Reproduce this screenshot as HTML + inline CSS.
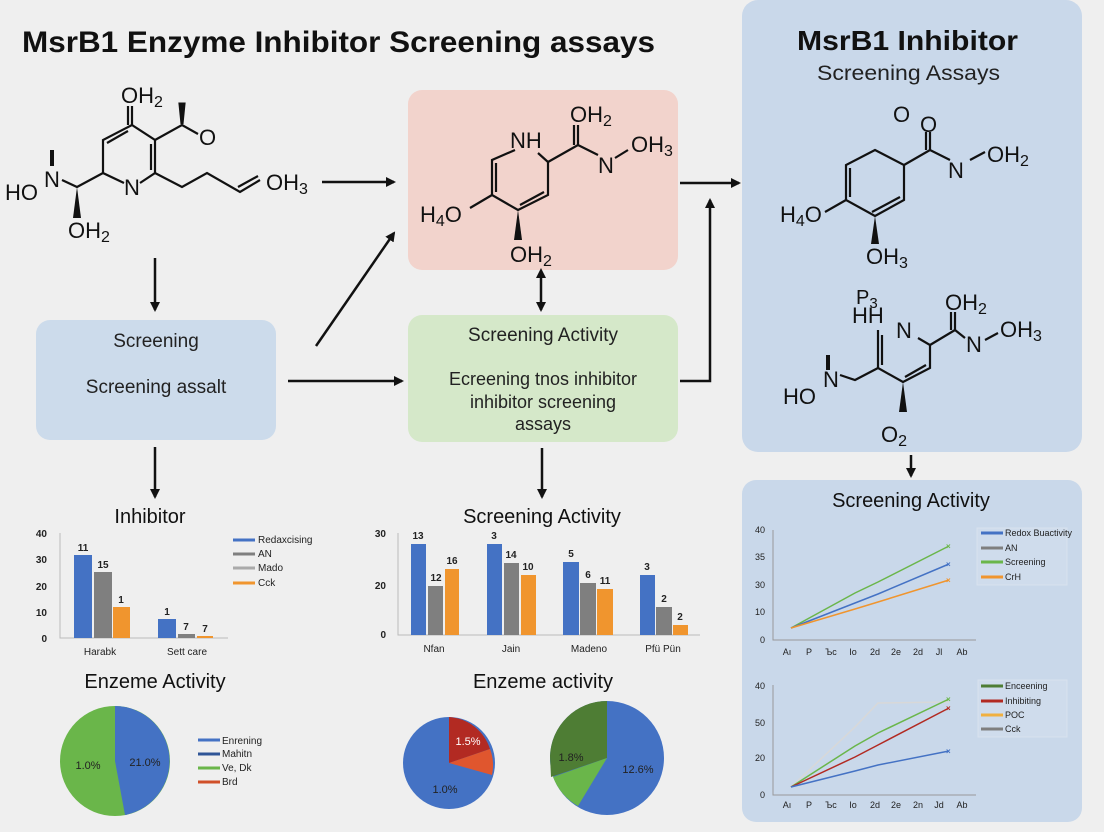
<!DOCTYPE html>
<html><head><meta charset="utf-8"><style>
html,body{margin:0;padding:0;background:#efefef;}
svg{display:block;}
text{font-family:"Liberation Sans",sans-serif;}
</style></head><body>
<svg width="1104" height="832" viewBox="0 0 1104 832" xmlns="http://www.w3.org/2000/svg">
<defs>
<marker id="ah" markerWidth="10" markerHeight="10" refX="8" refY="5" orient="auto" markerUnits="userSpaceOnUse"><path d="M0,0 L10,5 L0,10 z" fill="#111"/></marker>
<marker id="ahs" markerWidth="10" markerHeight="10" refX="2" refY="5" orient="auto-start-reverse" markerUnits="userSpaceOnUse"><path d="M0,0 L10,5 L0,10 z" fill="#111"/></marker>
</defs>
<rect width="1104" height="832" fill="#efefef"/>
<!-- panels -->
<rect x="742" y="0" width="340" height="452" rx="16" fill="#c9d8ea"/>
<rect x="742" y="480" width="340" height="342" rx="14" fill="#c9d8ea"/>
<rect x="408" y="90" width="270" height="180" rx="14" fill="#f2d3cc"/>
<rect x="408" y="315" width="270" height="127" rx="14" fill="#d5e8c9"/>
<rect x="36" y="320" width="240" height="120" rx="14" fill="#ccdbeb"/>

<text x="22" y="52" font-size="30" font-weight="bold" fill="#111" textLength="633" lengthAdjust="spacingAndGlyphs">MsrB1 Enzyme Inhibitor Screening assays</text>
<text x="797" y="50" font-size="28" font-weight="bold" fill="#111" textLength="221" lengthAdjust="spacingAndGlyphs">MsrB1 Inhibitor</text>
<text x="817" y="80" font-size="21" fill="#222" textLength="183" lengthAdjust="spacingAndGlyphs">Screening Assays</text>

<text x="156" y="347" font-size="19" fill="#222" text-anchor="middle">Screening</text>
<text x="156" y="393" font-size="19" fill="#222" text-anchor="middle">Screening assalt</text>
<text x="543" y="341" font-size="19" fill="#222" text-anchor="middle">Screening Activity</text>
<text x="543" y="385" font-size="18" fill="#222" text-anchor="middle">Ecreening tnos inhibitor</text>
<text x="543" y="408" font-size="18" fill="#222" text-anchor="middle">inhibitor screening</text>
<text x="543" y="430" font-size="18" fill="#222" text-anchor="middle">assays</text>

<!-- molecule 1 -->
<g stroke="#111" stroke-width="2.2" fill="none">
<path d="M132,125 L155,140 L155,173 L140,183 M124,183 L103,173 L103,140 L132,125"/>
<path d="M151,144 L151,170 M107,143 L128,131"/>
<path d="M132,125 L132,106 M128,125 L128,106"/>
<path d="M155,140 L182,125 L198,134"/>
<path d="M155,173 L182,187 L207,173 L240,192 L260,180 M238,187 L258,176"/>
<path d="M103,173 L77,187 L62,180"/>
</g>
<path d="M180,104 L184,104 L182,124 z" fill="#111" stroke="#111" stroke-width="3"/>
<path d="M77,187 L73,218 L81,218 z" fill="#111"/>
<path d="M52,150 L52,166" stroke="#111" stroke-width="4"/>
<text x="121" y="103" font-size="22" fill="#111">OH<tspan font-size="16" dy="4">2</tspan></text>
<text x="199" y="145" font-size="22" fill="#111">O</text>
<text x="124" y="195" font-size="22" fill="#111">N</text>
<text x="44" y="187" font-size="22" fill="#111">N</text>
<text x="5" y="200" font-size="22" fill="#111">HO</text>
<text x="68" y="238" font-size="22" fill="#111">OH<tspan font-size="16" dy="4">2</tspan></text>
<text x="266" y="190" font-size="22" fill="#111">OH<tspan font-size="16" dy="4">3</tspan></text>

<!-- molecule pink -->
<g stroke="#111" stroke-width="2.2" fill="none">
<path d="M515,150 L492,160 L492,195 L518,210 L548,195 L548,162 L538,153"/>
<path d="M496,163 L496,192 M544,192 L520,205"/>
<path d="M492,195 L470,208"/>
<path d="M548,162 L578,145 L598,155 M578,145 L578,125 M574,145 L574,125"/>
<path d="M615,158 L628,150"/>
</g>
<path d="M518,210 L514,240 L522,240 z" fill="#111"/>
<text x="510" y="148" font-size="22" fill="#111">NH</text>
<text x="570" y="122" font-size="22" fill="#111">OH<tspan font-size="16" dy="4">2</tspan></text>
<text x="598" y="173" font-size="22" fill="#111">N</text>
<text x="631" y="152" font-size="22" fill="#111">OH<tspan font-size="16" dy="4">3</tspan></text>
<text x="420" y="222" font-size="22" fill="#111">H<tspan font-size="16" dy="4">4</tspan><tspan dy="-4">O</tspan></text>
<text x="510" y="262" font-size="22" fill="#111">OH<tspan font-size="16" dy="4">2</tspan></text>

<!-- molecule right top -->
<g stroke="#111" stroke-width="2.2" fill="none">
<path d="M875,150 L904,165 L904,200 L875,216 L846,200 L846,165 Z"/>
<path d="M850,168 L850,197 M872,212 L900,197"/>
<path d="M904,165 L930,150 L950,160 M930,150 L930,132 M926,150 L926,132"/>
<path d="M846,200 L825,212"/>
<path d="M970,160 L985,152"/>
</g>
<path d="M875,216 L871,244 L879,244 z" fill="#111"/>
<text x="893" y="122" font-size="22" fill="#111">O</text>
<text x="920" y="132" font-size="22" fill="#111">O</text>
<text x="948" y="178" font-size="22" fill="#111">N</text>
<text x="987" y="162" font-size="22" fill="#111">OH<tspan font-size="16" dy="4">2</tspan></text>
<text x="780" y="222" font-size="22" fill="#111">H<tspan font-size="16" dy="4">4</tspan><tspan dy="-4">O</tspan></text>
<text x="866" y="264" font-size="22" fill="#111">OH<tspan font-size="16" dy="4">3</tspan></text>

<!-- molecule right 2 -->
<g stroke="#111" stroke-width="2.2" fill="none">
<path d="M878,330 L878,368 L903,382 L930,368 L930,345 L918,338"/>
<path d="M882,335 L882,365 M926,365 L905,377"/>
<path d="M930,345 L955,330 L965,338 M955,330 L955,312 M951,330 L951,312"/>
<path d="M878,368 L855,380 L840,375"/>
<path d="M985,340 L998,333"/>
</g>
<path d="M903,382 L899,412 L907,412 z" fill="#111"/>
<path d="M828,355 L828,370" stroke="#111" stroke-width="4"/>
<text x="945" y="310" font-size="22" fill="#111">OH<tspan font-size="16" dy="4">2</tspan></text>
<text x="856" y="304" font-size="20" fill="#111">P<tspan font-size="15" dy="4">3</tspan></text>
<text x="852" y="323" font-size="22" fill="#111">HH</text>
<text x="896" y="338" font-size="22" fill="#111">N</text>
<text x="966" y="352" font-size="22" fill="#111">N</text>
<text x="1000" y="337" font-size="22" fill="#111">OH<tspan font-size="16" dy="4">3</tspan></text>
<text x="823" y="387" font-size="22" fill="#111">N</text>
<text x="783" y="404" font-size="22" fill="#111">HO</text>
<text x="881" y="442" font-size="22" fill="#111">O<tspan font-size="16" dy="4">2</tspan></text>

<!-- arrows -->
<g stroke="#111" stroke-width="2.5" fill="none">
<path d="M322,182 L394,182" marker-end="url(#ah)"/>
<path d="M155,258 L155,310" marker-end="url(#ah)"/>
<path d="M316,346 L394,233" marker-end="url(#ah)"/>
<path d="M288,381 L402,381" marker-end="url(#ah)"/>
<path d="M541,276 L541,310" marker-end="url(#ah)" marker-start="url(#ahs)"/>
<path d="M155,447 L155,497" marker-end="url(#ah)"/>
<path d="M542,448 L542,497" marker-end="url(#ah)"/>
<path d="M680,381 L710,381 L710,200" marker-end="url(#ah)"/>
<path d="M680,183 L739,183" marker-end="url(#ah)"/>
<path d="M911,455 L911,476" marker-end="url(#ah)"/>
</g>

<!-- bar chart 1 -->
<text x="150" y="523" font-size="20" fill="#111" text-anchor="middle">Inhibitor</text>
<g font-size="10" fill="#222" font-weight="bold" text-anchor="end">
<text x="47" y="537">40</text><text x="47" y="563">30</text><text x="47" y="590">20</text><text x="47" y="616">10</text><text x="47" y="642">0</text>
</g>
<path d="M60,533 L60,638 L228,638" stroke="#bbb" stroke-width="1" fill="none"/>
<rect x="74" y="555" width="18" height="83" fill="#4472c4"/>
<rect x="94" y="572" width="18" height="66" fill="#7f7f7f"/>
<rect x="113" y="607" width="17" height="31" fill="#f0952e"/>
<rect x="158" y="619" width="18" height="19" fill="#4472c4"/>
<rect x="178" y="634" width="17" height="4" fill="#7f7f7f"/>
<rect x="197" y="636" width="16" height="2" fill="#f0952e"/>
<g font-size="10" fill="#222" font-weight="bold" text-anchor="middle">
<text x="83" y="551">11</text><text x="103" y="568">15</text><text x="121" y="603">1</text>
<text x="167" y="615">1</text><text x="186" y="630">7</text><text x="205" y="632">7</text>
</g>
<text x="100" y="655" font-size="10" fill="#222" text-anchor="middle">Harabk</text>
<text x="187" y="655" font-size="10" fill="#222" text-anchor="middle">Sett care</text>
<g stroke-width="3"><path d="M233,540 L255,540" stroke="#4472c4"/><path d="M233,554 L255,554" stroke="#7f7f7f"/><path d="M233,568 L255,568" stroke="#aaa"/><path d="M233,583 L255,583" stroke="#f0952e"/></g>
<g font-size="10" fill="#222"><text x="258" y="543">Redaxcising</text><text x="258" y="557">AN</text><text x="258" y="571">Mado</text><text x="258" y="586">Cck</text></g>

<!-- pie 1 -->
<text x="155" y="688" font-size="20" fill="#111" text-anchor="middle">Enzeme  Activity</text>
<circle cx="115" cy="761" r="55" fill="#6ab64a"/>
<path d="M115,761 L115,706 A55,55 0 0 1 125,815 Z" fill="#4472c4"/>
<text x="88" y="769" font-size="11" fill="#222" text-anchor="middle">1.0%</text>
<text x="145" y="766" font-size="11" fill="#222" text-anchor="middle">21.0%</text>
<g stroke-width="3"><path d="M198,740 L220,740" stroke="#4472c4"/><path d="M198,754 L220,754" stroke="#2f5597"/><path d="M198,768 L220,768" stroke="#6ab64a"/><path d="M198,782 L220,782" stroke="#d0502a"/></g>
<g font-size="10" fill="#222"><text x="222" y="744">Enrening</text><text x="222" y="757">Mahitn</text><text x="222" y="771">Ve, Dk</text><text x="222" y="785">Brd</text></g>

<!-- bar chart 2 -->
<text x="542" y="523" font-size="20" fill="#111" text-anchor="middle">Screening Activity</text>
<g font-size="10" fill="#222" font-weight="bold" text-anchor="end">
<text x="386" y="537">30</text><text x="386" y="589">20</text><text x="386" y="638">0</text>
</g>
<path d="M398,533 L398,635 L700,635" stroke="#bbb" stroke-width="1" fill="none"/>
<rect x="411" y="544" width="15" height="91" fill="#4472c4"/>
<rect x="428" y="586" width="15" height="49" fill="#7f7f7f"/>
<rect x="445" y="569" width="14" height="66" fill="#f0952e"/>
<rect x="487" y="544" width="15" height="91" fill="#4472c4"/>
<rect x="504" y="563" width="15" height="72" fill="#7f7f7f"/>
<rect x="521" y="575" width="15" height="60" fill="#f0952e"/>
<rect x="563" y="562" width="16" height="73" fill="#4472c4"/>
<rect x="580" y="583" width="16" height="52" fill="#7f7f7f"/>
<rect x="597" y="589" width="16" height="46" fill="#f0952e"/>
<rect x="640" y="575" width="15" height="60" fill="#4472c4"/>
<rect x="656" y="607" width="16" height="28" fill="#7f7f7f"/>
<rect x="673" y="625" width="15" height="10" fill="#f0952e"/>
<g font-size="10" fill="#222" font-weight="bold" text-anchor="middle">
<text x="418" y="539">13</text><text x="436" y="581">12</text><text x="452" y="564">16</text>
<text x="494" y="539">3</text><text x="511" y="558">14</text><text x="528" y="570">10</text>
<text x="571" y="557">5</text><text x="588" y="578">6</text><text x="605" y="584">11</text>
<text x="647" y="570">3</text><text x="664" y="602">2</text><text x="680" y="620">2</text>
</g>
<g font-size="10" fill="#222" text-anchor="middle"><text x="434" y="652">Nfan</text><text x="511" y="652">Jain</text><text x="589" y="652">Madeno</text><text x="663" y="652">Pfü Pün</text></g>

<!-- pies middle -->
<text x="543" y="688" font-size="20" fill="#111" text-anchor="middle">Enzeme activity</text>
<circle cx="449" cy="763" r="46" fill="#4472c4"/>
<path d="M449,763 L449,717 A46,46 0 0 1 490,749 Z" fill="#b22a22"/>
<path d="M449,763 L490,749 A46,46 0 0 1 492,775 Z" fill="#e0562e"/>
<text x="468" y="745" font-size="11" fill="#fff" text-anchor="middle">1.5%</text>
<text x="445" y="793" font-size="11" fill="#222" text-anchor="middle">1.0%</text>
<circle cx="607" cy="758" r="57" fill="#4472c4"/>
<path d="M607,758 L607,701 A57,57 0 0 0 550,756 L551,777 Z" fill="#4e7d34"/>
<path d="M607,758 L553,777 A57,57 0 0 0 578,806 Z" fill="#6ab64a"/>
<text x="571" y="761" font-size="11" fill="#222" text-anchor="middle">1.8%</text>
<text x="638" y="773" font-size="11" fill="#222" text-anchor="middle">12.6%</text>

<!-- right charts -->
<text x="911" y="507" font-size="20" fill="#111" text-anchor="middle">Screening Activity</text>
<g font-size="9" fill="#222" text-anchor="end">
<text x="765" y="533">40</text><text x="765" y="560">35</text><text x="765" y="588">30</text><text x="765" y="615">10</text><text x="765" y="643">0</text>
<text x="765" y="689">40</text><text x="765" y="726">50</text><text x="765" y="761">20</text><text x="765" y="798">0</text>
</g>
<path d="M773,530 L773,640 L976,640 M773,685 L773,795 L976,795" stroke="#999" stroke-width="1" fill="none"/>
<g font-size="9" fill="#222" text-anchor="middle">
<text x="787" y="655">Aı</text><text x="809" y="655">P</text><text x="831" y="655">Ъc</text><text x="853" y="655">Io</text><text x="875" y="655">2d</text><text x="896" y="655">2e</text><text x="918" y="655">2d</text><text x="939" y="655">Jl</text><text x="962" y="655">Ab</text>
<text x="787" y="808">Aı</text><text x="809" y="808">P</text><text x="831" y="808">Ъc</text><text x="853" y="808">Io</text><text x="875" y="808">2d</text><text x="896" y="808">2e</text><text x="918" y="808">2n</text><text x="939" y="808">Jd</text><text x="962" y="808">Ab</text>
</g>
<g fill="none" stroke-width="1.5">
<polyline points="791,628 855,593 878,582 949,546" stroke="#6ab64a"/>
<polyline points="791,628 855,603 878,594 949,564" stroke="#4472c4"/>
<polyline points="791,628 855,609 878,602 949,580" stroke="#f0952e"/>
<polyline points="791,787 855,727 878,703 949,702" stroke="#d8d8d8"/>
<polyline points="791,787 855,746 878,733 949,699" stroke="#6ab64a"/>
<polyline points="791,787 855,757 878,745 949,708" stroke="#b22a22"/>
<polyline points="791,787 855,771 878,765 949,751" stroke="#4472c4"/>
</g>
<g font-size="8" font-weight="bold">
<text x="946" y="549" fill="#6ab64a">×</text><text x="946" y="567" fill="#4472c4">×</text><text x="946" y="583" fill="#f0952e">×</text>
<text x="946" y="702" fill="#6ab64a">×</text><text x="946" y="711" fill="#b22a22">×</text><text x="946" y="754" fill="#4472c4">×</text>
</g>
<rect x="977" y="528" width="90" height="57" fill="#cfdcec" stroke="#d8e2ee"/>
<g stroke-width="3"><path d="M981,533 L1003,533" stroke="#4472c4"/><path d="M981,548 L1003,548" stroke="#7f7f7f"/><path d="M981,562 L1003,562" stroke="#6ab64a"/><path d="M981,577 L1003,577" stroke="#f0952e"/></g>
<g font-size="9" fill="#222"><text x="1005" y="536">Redox Buactivity</text><text x="1005" y="551">AN</text><text x="1005" y="565">Screening</text><text x="1005" y="580">CrH</text></g>
<rect x="978" y="680" width="89" height="57" fill="#cfdcec" stroke="#d8e2ee"/>
<g stroke-width="3"><path d="M981,686 L1003,686" stroke="#4e7d34"/><path d="M981,701 L1003,701" stroke="#b22a22"/><path d="M981,715 L1003,715" stroke="#f0b040"/><path d="M981,729 L1003,729" stroke="#7f7f7f"/></g>
<g font-size="9" fill="#222"><text x="1005" y="689">Enceening</text><text x="1005" y="704">Inhibiting</text><text x="1005" y="718">POC</text><text x="1005" y="732">Cck</text></g>
</svg>
</body></html>
